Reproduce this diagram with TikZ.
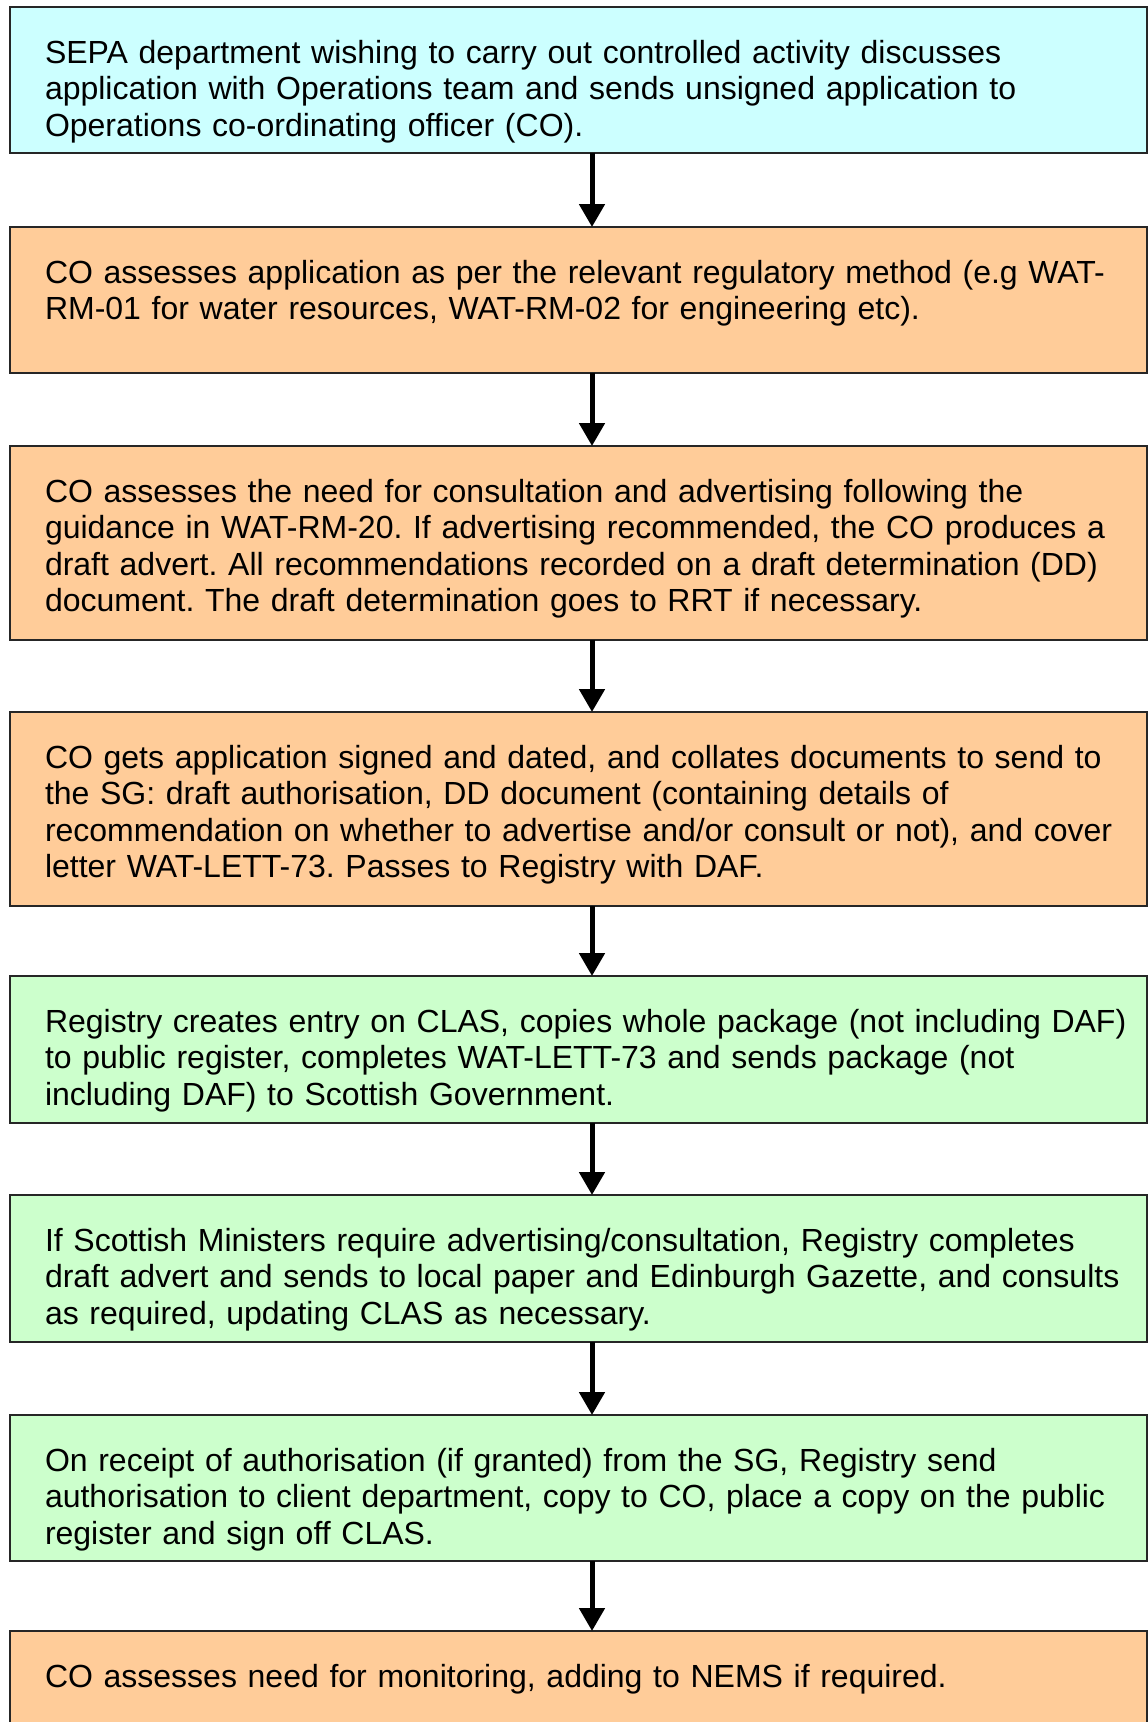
\documentclass[tikz,border=0pt]{standalone}
\usepackage{fontspec}
\setmainfont{Liberation Sans}
\usepackage{tikz}
\usetikzlibrary{arrows.meta, positioning}

\definecolor{opsblue}{HTML}{CCFFFF}
\definecolor{opsorange}{HTML}{FFCC99}
\definecolor{regreen}{HTML}{CCFFCC}

% lines kept as set, no rewrapping
\newcommand{\steplines}[1]{\begin{tabular}[t]{@{}l@{}}#1\end{tabular}}

\tikzset{
  stepbox/.style={draw=black!85, line width=2.5pt, anchor=north west, outer sep=0pt,
    minimum width=1137pt, text width=1067pt, inner xsep=35pt, inner ysep=0pt,
    text height=56pt, text depth=#1,
    font=\fontsize{32}{36.6}\selectfont\frenchspacing},
  flowarrow/.style={-{Triangle[width=25pt,length=23pt]}, line width=5pt, black}
}

\begin{document}
\begin{tikzpicture}[x=1pt,y=-1pt]
\useasboundingbox (0,0) rectangle (1148,1722);
\coordinate (ax) at (592,0);
\node[stepbox=90pt,fill=opsblue] (s1) at (10,7) {\steplines{SEPA department wishing to carry out controlled activity discusses\\application with Operations team and sends unsigned application to\\Operations co-ordinating officer (CO).}};
\node[stepbox=90pt,fill=opsorange] (s2) at (10,227) {\steplines{CO assesses application as per the relevant regulatory method (e.g WAT-\\RM-01 for water resources, WAT-RM-02 for engineering etc).}};
\node[stepbox=138pt,fill=opsorange] (s3) at (10,446) {\steplines{CO assesses the need for consultation and advertising following the\\guidance in WAT-RM-20. If advertising recommended, the CO produces a\\draft advert. All recommendations recorded on a draft determination (DD)\\document. The draft determination goes to RRT if necessary.}};
\node[stepbox=138pt,fill=opsorange] (s4) at (10,712) {\steplines{CO gets application signed and dated, and collates documents to send to\\the SG: draft authorisation, DD document (containing details of\\recommendation on whether to advertise and/or consult or not), and cover\\letter WAT-LETT-73. Passes to Registry with DAF.}};
\node[stepbox=91pt,fill=regreen] (s5) at (10,976) {\steplines{Registry creates entry on CLAS, copies whole package (not including DAF)\\to public register, completes WAT-LETT-73 and sends package (not\\including DAF) to Scottish Government.}};
\node[stepbox=91pt,fill=regreen] (s6) at (10,1195) {\steplines{If Scottish Ministers require advertising/consultation, Registry completes\\draft advert and sends to local paper and Edinburgh Gazette, and consults\\as required, updating CLAS as necessary.}};
\node[stepbox=90pt,fill=regreen] (s7) at (10,1415) {\steplines{On receipt of authorisation (if granted) from the SG, Registry send\\authorisation to client department, copy to CO, place a copy on the public\\register and sign off CLAS.}};
\node[stepbox=90pt,fill=opsorange] (s8) at (10,1631) {\steplines{CO assesses need for monitoring, adding to NEMS if required.}};
% arrows between the steps
\foreach \a/\b in {s1/s2,s2/s3,s3/s4,s4/s5,s5/s6,s6/s7,s7/s8}
  \draw[flowarrow] (\a.south -| ax) -- (\b.north -| ax);
\end{tikzpicture}
\end{document}
